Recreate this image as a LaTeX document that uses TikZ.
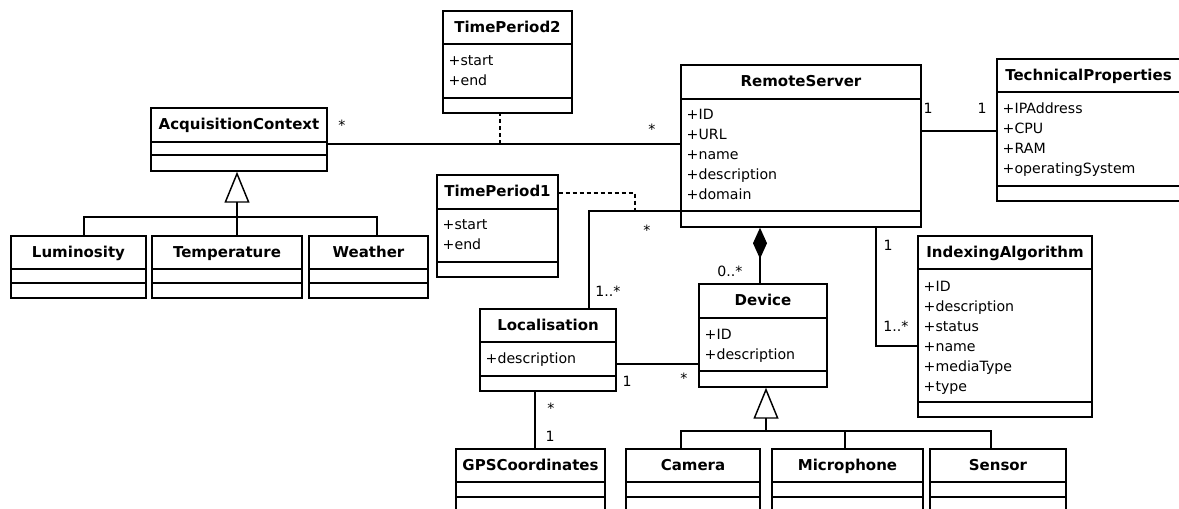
\documentclass[tikz,border=0pt]{standalone}
\usepackage{fontspec}
\setmainfont{DejaVu Sans}
\usetikzlibrary{arrows.meta,fit}
\tikzset{
  cls/.style={draw, inner sep=0pt},
  ttl/.style={anchor=base, inner sep=0pt, font=\bfseries\fontsize{11.25}{13}\selectfont},
  attr/.style={anchor=base west, inner sep=0pt, font=\fontsize{10.6}{13}\selectfont},
  mult/.style={anchor=base, inner sep=0pt, font=\fontsize{10.6}{13}\selectfont},
  dsh/.style={dash pattern=on 3pt off 2.25pt},
  inh/.style={-{Triangle[open, length=23.25pt, width=18.75pt]}},
  comp/.style={-{Diamond[length=23.25pt, width=10.5pt]}}
}
\newcommand{\umlclass}[8]{%
  \node[cls, fit={(#2,#3)(#4,#5)}] (#1) {};
  \draw (#2,#6) -- (#4,#6);
  \draw (#2,#7) -- (#4,#7);
  \pgfmathsetmacro{\ucx}{(#2+#4)/2}
  \pgfmathsetmacro{\ucy}{(#3+#6)/2+5}
  \node[ttl] (#1-name) at (\ucx,\ucy) {#8};
}
\newcommand{\umlattrs}[4]{%
  \foreach \aa [count=\ii] in {#4} {
    \node[attr] (#1-a\ii) at (#2, {#3+20*(\ii-1)}) {\aa};
  }
}
\begin{document}
\begin{tikzpicture}[x=0.75pt, y=-0.75pt, line width=1.1pt]
\clip (0,0) rectangle (1179,509);
\fill[white] (0,0) rectangle (1179,509);

% classes
\umlclass{AcquisitionContext}{151}{108}{327}{171}{142}{155}{AcquisitionContext}
\umlclass{Luminosity}{11}{236}{146}{298}{269}{283}{Luminosity}
\umlclass{Temperature}{152}{236}{302}{298}{269}{283}{Temperature}
\umlclass{Weather}{309}{236}{428}{298}{269}{283}{Weather}
\umlclass{TimePeriod2}{443}{11}{572}{113}{44}{98}{TimePeriod2}
\umlattrs{TimePeriod2}{448}{66}{+start,+end}
\umlclass{TimePeriod1}{437}{175}{558}{277}{209}{262}{TimePeriod1}
\umlattrs{TimePeriod1}{442}{230}{+start,+end}
\umlclass{RemoteServer}{681}{65}{921}{227}{99}{211}{RemoteServer}
\umlattrs{RemoteServer}{686}{120}{+ID,+URL,+name,+description,+domain}
\umlclass{TechnicalProperties}{997}{59}{1180}{201}{92}{186}{TechnicalProperties}
\umlattrs{TechnicalProperties}{1002}{114}{+IPAddress,+CPU,+RAM,+operatingSystem}
\umlclass{IndexingAlgorithm}{918}{236}{1092}{417}{269}{402}{IndexingAlgorithm}
\umlattrs{IndexingAlgorithm}{923}{292}{+ID,+description,+status,+name,+mediaType,+type}
\umlclass{Device}{699}{284}{827}{387}{318}{371}{Device}
\umlattrs{Device}{704}{340}{+ID,+description}
\umlclass{Localisation}{480}{309}{616}{391}{342}{376}{Localisation}
\umlattrs{Localisation}{485}{364}{+description}
\umlclass{GPSCoordinates}{456}{449}{605}{530}{482}{497}{GPSCoordinates}
\umlclass{Camera}{626}{449}{760}{530}{482}{497}{Camera}
\umlclass{Microphone}{772}{449}{923}{530}{482}{497}{Microphone}
\umlclass{Sensor}{930}{449}{1066}{530}{482}{497}{Sensor}

% helper coordinates
\coordinate (yA) at (0,144);
\coordinate (tp2a) at (500,144);
\coordinate (tp1b) at (0,193);
\coordinate (tp1a) at (635,211);
\coordinate (rl) at (589,211);
\coordinate (cm) at (760,0);
\coordinate (yT) at (0,131);
\coordinate (ri) at (876,346);
\coordinate (yLD) at (0,364);
\coordinate (xLG) at (535,0);
\coordinate (abar) at (237,217);
\coordinate (aL) at (84,0);
\coordinate (aW) at (377,0);
\coordinate (dbar) at (766,431);
\coordinate (dC) at (681,0);
\coordinate (dM) at (845,0);
\coordinate (dS) at (991,0);

% associations
\draw (AcquisitionContext.east |- yA) -- (RemoteServer.west |- yA);
\draw[dsh] (tp2a) -- (TimePeriod2.south -| tp2a);
\draw (RemoteServer.west |- rl) -| (Localisation.north -| rl);
\draw[dsh] (TimePeriod1.east |- tp1b) -| (tp1a);
\draw[comp] (Device.north -| cm) -- (RemoteServer.south -| cm);
\draw (RemoteServer.east |- yT) -- (TechnicalProperties.west |- yT);
\draw (RemoteServer.south -| ri) |- (IndexingAlgorithm.west |- ri);
\draw (Localisation.east |- yLD) -- (Device.west |- yLD);
\draw (Localisation.south -| xLG) -- (GPSCoordinates.north -| xLG);

% generalisations
\draw (Luminosity.north -| aL) -- (aL |- abar) -- (aW |- abar) -- (Weather.north -| aW);
\draw (Temperature.north -| abar) -- (abar);
\draw[inh] (abar) -- (AcquisitionContext.south -| abar);
\draw (Camera.north -| dC) -- (dC |- dbar) -- (dS |- dbar) -- (Sensor.north -| dS);
\draw (Microphone.north -| dM) -- (dM |- dbar);
\draw[inh] (dbar) -- (Device.south -| dbar);

% multiplicities
\node[mult] (m1) at (342,131) {*};
\node[mult] (m2) at (652,135) {*};
\node[mult] (m3) at (928,114) {1};
\node[mult] (m4) at (982,114) {1};
\node[mult] (m5) at (647,236) {*};
\node[mult] (m6) at (608,297) {1..*};
\node[mult] (m7) at (730,277) {0..*};
\node[mult] (m8) at (627,387) {1};
\node[mult] (m9) at (684,384) {*};
\node[mult] (m10) at (551,414) {*};
\node[mult] (m11) at (550,442) {1};
\node[mult] (m12) at (888,251) {1};
\node[mult] (m13) at (896,332) {1..*};
\end{tikzpicture}
\end{document}
